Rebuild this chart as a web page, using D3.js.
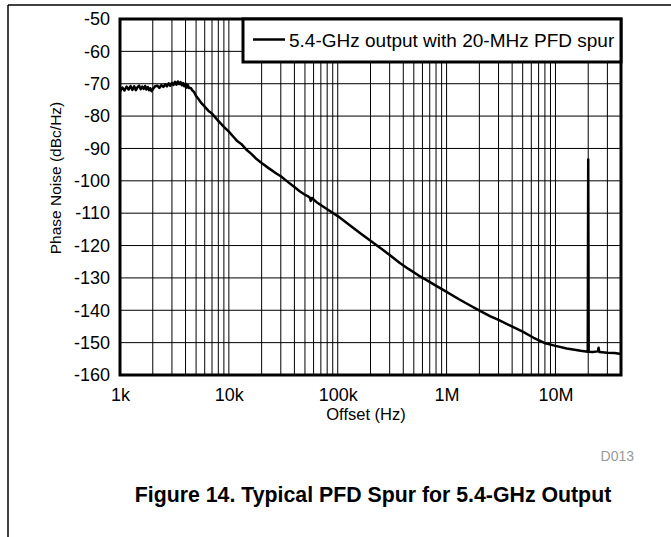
<!DOCTYPE html>
<html><head><meta charset="utf-8">
<script src="https://cdn.jsdelivr.net/npm/d3@7"></script>
<style>
body{margin:0;background:#fff;}
svg text{font-family:"Liberation Sans",Arial,sans-serif;}
</style></head>
<body><svg id="c" width="671" height="537"></svg>
<script>
// ---- data ----
const freqHz = [1000,1050,1100,1150,1200,1250,1300,1350,1400,1450,1500,1550,1600,1650,1700,1750,1800,1850,1900,1950,2000,2100,2200,2300,2400,2500,2600,2700,2800,2900,3000,3100,3200,3300,3400,3500,3600,3700,3800,3900,4000,4100,4200,4300,4400,4500,4600,4800,5000,5300,5600,6000,6500,7000,7500,8000,9000,10000,11000,12000,13000,14600,16000,17600,20000,23000,27500,30000,35000,40000,45000,50000,54000,55500,56500,58000,65000,80000,100000,130000,160000,200000,250000,300000,372000,450000,550000,650000,790000,1000000,1300000,1600000,1950000,2500000,3000000,3800000,5000000,6300000,7900000,10000000,12700000,15000000,17000000,19800000,20000000,20200000,22000000,24500000,24900000,25300000,30000000,35000000,40000000];
const phaseNoise = [-72.4,-71.2,-72.1,-70.9,-71.8,-70.7,-71.9,-70.8,-72.0,-71.0,-70.6,-71.7,-70.9,-71.6,-70.7,-71.8,-71.0,-72.0,-71.4,-72.3,-71.7,-70.8,-70.6,-71.3,-70.4,-71.0,-70.2,-70.8,-69.9,-70.6,-69.7,-70.4,-69.4,-70.3,-69.3,-70.1,-69.5,-70.5,-69.8,-70.8,-70.0,-71.2,-70.4,-71.3,-71.3,-71.4,-72.0,-72.6,-73.8,-74.9,-76.0,-77.1,-78.4,-79.2,-80.4,-81.5,-83.3,-84.8,-86.4,-87.8,-88.6,-90.5,-91.6,-93.0,-94.5,-96.0,-97.8,-98.6,-100.4,-101.9,-103.3,-104.3,-104.9,-105.2,-106.2,-105.3,-106.8,-108.8,-110.9,-113.8,-116.1,-118.5,-120.9,-122.9,-125.4,-127.3,-129.2,-130.6,-132.3,-134.3,-136.6,-138.3,-139.9,-141.8,-143.0,-144.7,-146.6,-148.5,-150.1,-151.0,-151.8,-152.2,-152.5,-152.8,-93.4,-152.8,-152.9,-152.7,-151.6,-152.9,-153.1,-153.2,-153.5];
const xTickValues = [1e3,1e4,1e5,1e6,1e7];
const xTickLabels = ["1k","10k","100k","1M","10M"];
const yTickValues = [-50,-60,-70,-80,-90,-100,-110,-120,-130,-140,-150,-160];
const seriesName = "5.4-GHz output with 20-MHz PFD spur";

// ---- layout ----
const svg = d3.select("#c");
const L=120, R=621, T=19, B=375;
const x = d3.scaleLog().domain([1e3,4e7]).range([L,R]);
const y = d3.scaleLinear().domain([-160,-50]).range([B,T]);

// outer frame
svg.append("line").attr("x1",8).attr("x2",671).attr("y1",5).attr("y2",5).attr("stroke","#000").attr("stroke-width",1.5);
svg.append("line").attr("x1",8).attr("x2",8).attr("y1",5).attr("y2",537).attr("stroke","#000").attr("stroke-width",1.5);

// grid
const xGrid = [];
for (let e=3;e<=7;e++) for (let m=1;m<=9;m++){const v=m*Math.pow(10,e); if(v>1e3 && v<4e7) xGrid.push(v);}
svg.append("g").selectAll("line").data(xGrid).join("line")
  .attr("x1",d=>x(d)).attr("x2",d=>x(d)).attr("y1",T).attr("y2",B)
  .attr("stroke","#000").attr("stroke-width",1);
svg.append("g").selectAll("line").data(yTickValues.filter(v=>v>-160&&v<-50)).join("line")
  .attr("x1",L).attr("x2",R).attr("y1",d=>y(d)).attr("y2",d=>y(d))
  .attr("stroke","#000").attr("stroke-width",1);

// curve
const pts = freqHz.map((f,i)=>[f,phaseNoise[i]]);
svg.append("path").datum(pts)
  .attr("d", d3.line().x(d=>x(d[0])).y(d=>y(d[1])))
  .attr("fill","none").attr("stroke","#000").attr("stroke-width",2.5).attr("stroke-linejoin","round");

// border
svg.append("rect").attr("x",L).attr("y",T).attr("width",R-L).attr("height",B-T)
  .attr("fill","none").attr("stroke","#000").attr("stroke-width",3);

// axes labels
const xAxis = d3.axisBottom(x).tickValues(xTickValues).tickSize(0).tickPadding(0)
  .tickFormat((d,i)=>xTickLabels[i]);
const gx = svg.append("g").attr("transform",`translate(0,${B})`).call(xAxis);
gx.select(".domain").remove();
gx.selectAll("text").attr("dy",null).attr("y",26).attr("font-size",18).attr("fill","#000")
  .style("font-family","'Liberation Sans',Arial,sans-serif");

const yAxis = d3.axisLeft(y).tickValues(yTickValues).tickSize(0).tickPadding(10)
  .tickFormat(d=>String(d));
const gy = svg.append("g").attr("transform",`translate(${L},0)`).call(yAxis);
gy.select(".domain").remove();
gy.selectAll("text").attr("font-size",18).attr("fill","#000")
  .style("font-family","'Liberation Sans',Arial,sans-serif");

svg.append("text").attr("x",366).attr("y",420).attr("text-anchor","middle")
  .attr("font-size",16.5).text("Offset (Hz)");
svg.append("text").attr("transform","translate(61,178) rotate(-90)").attr("text-anchor","middle")
  .attr("font-size",15.5).text("Phase Noise (dBc/Hz)");

// legend
svg.append("rect").attr("x",243).attr("y",T).attr("width",R-243).attr("height",43)
  .attr("fill","#fff").attr("stroke","#000").attr("stroke-width",3);
svg.append("line").attr("x1",253).attr("x2",285).attr("y1",39.5).attr("y2",39.5)
  .attr("stroke","#000").attr("stroke-width",2.5);
svg.append("text").attr("x",289).attr("y",46.5).attr("font-size",19).text(seriesName);

svg.append("text").attr("x",634).attr("y",461).attr("text-anchor","end")
  .attr("font-size",14).attr("fill","#999").text("D013");

svg.append("text").attr("x",373).attr("y",502).attr("text-anchor","middle")
  .attr("font-size",21.3).attr("font-weight","bold").text("Figure 14. Typical PFD Spur for 5.4-GHz Output");
</script></body></html>
